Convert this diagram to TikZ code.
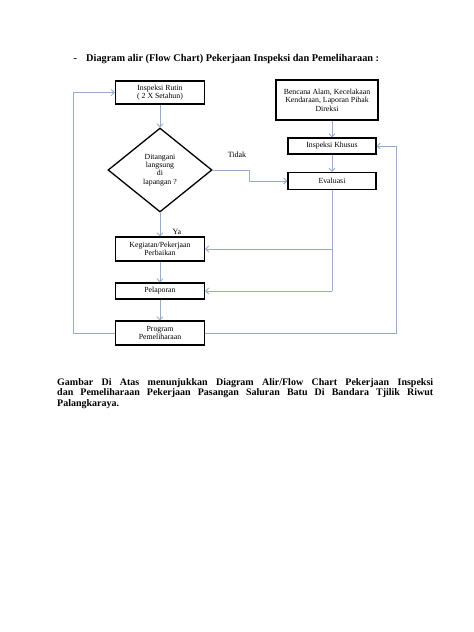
\documentclass[tikz,border=0pt]{standalone}
\usepackage{fontspec}
\setmainfont{Liberation Serif}
\usetikzlibrary{arrows.meta, positioning, shapes.geometric}
\usepackage{xcolor}
\definecolor{linkblue}{RGB}{150,172,202}
\tikzset{
  >={Straight Barb[length=3pt,width=6pt]},
  box/.style={draw=black, line width=1.3pt, inner sep=1pt, align=center, font=\fontsize{7.8}{8.6}\selectfont},
  box flow/.style={box, minimum width=89pt},
  decide/.style={diamond, draw=black, line width=1.3pt, minimum width=104pt, minimum height=84pt, inner sep=0pt, align=center, font=\fontsize{7.8}{8.4}\selectfont},
  connect/.style={linkblue, line width=0.9pt},
  tag/.style={font=\fontsize{8}{9}\selectfont},
  heading/.style={font=\fontsize{10.3}{12}\selectfont\bfseries},
  caption/.style={font=\fontsize{10}{10.8}\selectfont\bfseries, text width=376pt, align=justify, inner sep=0pt}
}
\begin{document}
\begin{tikzpicture}[x=1pt,y=-1pt]
  \useasboundingbox (0,0) rectangle (474,632);

  % --- TITLE ---
  \node[heading, anchor=west] (dash) at (70,60) {-};
  \node[heading, anchor=west, inner sep=0pt] (title) at (86,59) {Diagram alir (Flow Chart) Pekerjaan Inspeksi dan Pemeliharaan :};

  % --- LEFT COLUMN ---
  \node[box flow, minimum height=23pt] (rutin) at (160,92.5) {Inspeksi Rutin\\( 2 X Setahun)};
  \node[decide] (dia) at (160,170) {Ditangani\\langsung\\di\\lapangan ?};
  \node[box flow, minimum height=24pt] (kegiatan) at (160,249) {Kegiatan/Pekerjaan\\Perbaikan};
  \node[box flow, minimum height=16pt] (pelaporan) at (160,291) {Pelaporan};
  \node[box flow, minimum height=24pt] (program) at (160,333) {Program\\Pemeliharaan};

  % --- RIGHT COLUMN ---
  \node[box, minimum width=102pt, minimum height=40pt] (bencana) at (327,100) {Bencana Alam, Kecelakaan\\Kendaraan, Laporan Pihak\\Direksi};
  \node[box, minimum width=88pt, minimum height=16pt] (khusus) at (332,146) {Inspeksi Khusus};
  \node[box, minimum width=88pt, minimum height=17pt] (evaluasi) at (332,181) {Evaluasi};

  \node[tag] (tidak) at (237,155) {Tidak};
  \node[tag] (ya) at (177,232) {Ya};

  % bends of the connectors
  \coordinate (tbend) at (249,170);
  \coordinate (lft) at (73,333);
  \coordinate (rgt) at (396,333);
  \coordinate (evdown) at (evaluasi.south |- pelaporan.east);

  % --- CONNECTIONS ---
  \draw[connect,->] (rutin) -- (dia);
  \draw[connect,->] (dia) -- (kegiatan);
  \draw[connect,->] (kegiatan) -- (pelaporan);
  \draw[connect,->] (pelaporan) -- (program);
  \draw[connect,->] (dia.east) -- (tbend) |- (evaluasi.west);
  \draw[connect,->] (khusus.north |- bencana.south) -- (khusus.north);
  \draw[connect,->] (khusus) -- (evaluasi);
  \draw[connect] (evaluasi.south) -- (evdown);
  \draw[connect,->] (evdown) -- (pelaporan.east);
  \draw[connect,->] (evaluasi.south |- kegiatan.east) -- (kegiatan.east);
  \draw[connect,->] (program.west) -- (lft) |- (rutin.west);
  \draw[connect,->] (program.east) -- (rgt) |- (khusus.east);

  % --- CAPTION ---
  \node[caption, anchor=north west] (ket) at (57,378) {Gambar Di Atas menunjukkan Diagram Alir/Flow Chart Pekerjaan Inspeksi\linebreak dan Pemeliharaan Pekerjaan Pasangan Saluran Batu Di Bandara Tjilik Riwut\linebreak Palangkaraya.};
\end{tikzpicture}
\end{document}
